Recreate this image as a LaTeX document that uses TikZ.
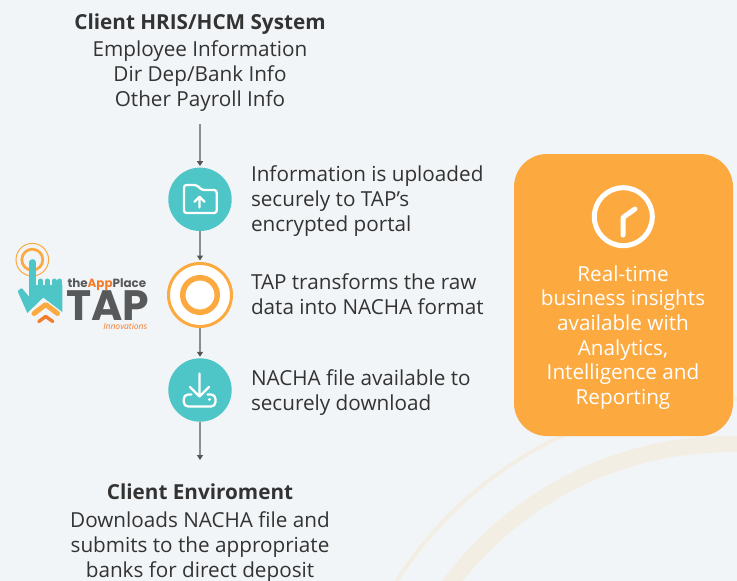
\documentclass[tikz,border=0pt]{standalone}
\usepackage{fontspec}
\setmainfont{Open Sans}
\newfontfamily\logofont{Poppins}
\definecolor{bgc}{HTML}{F2F5F7}
\definecolor{arcc}{HTML}{F2EEE4}
\definecolor{orng}{HTML}{FCA93F}
\definecolor{deep}{HTML}{F47B2A}
\definecolor{teal2}{HTML}{4EC5C7}
\definecolor{ink}{HTML}{333333}
\definecolor{logoink}{HTML}{58595B}
\definecolor{lineg}{HTML}{8E8E8E}
\definecolor{headg}{HTML}{555555}
\usetikzlibrary{arrows.meta}
\tikzset{
  txt/.style={inner sep=0pt,outer sep=0pt,text=ink,font=\fontsize{20.7}{25}\selectfont},
  leftblock/.style={txt,anchor=north west,align=left},
  midblock/.style={txt,anchor=north,align=center},
  flow/.style={draw=lineg,line width=1.3pt,-{Triangle[length=5pt,width=6pt,fill=headg,color=headg]},shorten >=1.5pt},
  tealdot/.style={circle,fill=teal2,minimum size=63.4pt,inner sep=0pt,outer sep=0pt},
  icon/.style={draw=white,line width=2.3pt,line cap=round,line join=round},
}
\newcommand{\topline}{\rule{0pt}{16pt}}
\begin{document}
\begin{tikzpicture}[x=1pt,y=-1pt]
\useasboundingbox (0,0) rectangle (737,581);
\fill[bgc] (0,0) rectangle (737,581);
\begin{scope}
\clip (0,0) rectangle (737,581);
\draw[arcc,line width=16.5pt] (730,794) circle (350pt);
\draw[arcc,line width=4pt] (730,794) circle (395.5pt);
\end{scope}

% orange panel
\node[fill=orng,rounded corners=33pt,minimum width=219pt,minimum height=282pt,inner sep=0pt,outer sep=0pt] (panel) at (623.5,295) {};
\node[circle,draw=white,line width=5pt,fill=none,minimum size=58pt,inner sep=0pt] (clock) at (623.3,216.7) {};
\draw[white,line width=5pt,line cap=round,line join=round] (623,235) -- (623,217.5) -- (635,209);
\node[txt,text=white,anchor=north,align=center,font=\fontsize{20.7}{24.7}\selectfont] (paneltext) at (623,265) {\topline Real-time\\business insights\\available with\\Analytics,\\Intelligence and\\Reporting};

% texts
\node[midblock] (hris) at (200,13) {\topline\textbf{Client HRIS/HCM System}\\[2pt]Employee Information\\Dir Dep/Bank Info\\Other Payroll Info};
\node[midblock] (env) at (200,483) {\topline\textbf{Client Enviroment}\\[3pt]Downloads NACHA file and\\submits to the appropriate\\banks for direct deposit};
\node[leftblock] (t1) at (251,165) {\topline Information is uploaded\\securely to TAP’s\\encrypted portal};
\node[leftblock] (t2) at (251,273) {\topline TAP transforms the raw\\data into NACHA format};
\node[leftblock] (t3) at (251,369) {\topline NACHA file available to\\securely download};

% step circles
\node[tealdot] (c1) at (200,199.3) {};
\node[circle,draw=orng,line width=3pt,fill=white,minimum size=63pt,inner sep=0pt,outer sep=1.5pt] (c2) at (200,295) {};
\node[circle,draw=orng,line width=5.5pt,fill=none,minimum size=34.5pt,inner sep=0pt] (c2in) at (200,295) {};
\node[tealdot] (c3) at (200,390) {};
\coordinate (endarrow) at (200,461.5);

% connectors
\draw[flow,shorten <=3pt] (hris.south) ++(0,10) -- (c1.north);
\draw[flow] (c1.south) -- (c2.north);
\draw[flow] (c2.south) -- (c3.north);
\draw[flow] (c3.south) -- (endarrow);

% folder icon
\draw[icon,rounded corners=2.5pt] (184,185) -- (196.5,185) -- (202,190) -- (216.7,190) -- (216.7,213) -- (184,213) -- cycle;
\draw[icon] (199.5,207.5) -- (199.5,197) (194.5,201.7) -- (199.5,196.7) -- (204.5,201.7);

% download icon
\draw[icon] (199.5,373.5) -- (199.5,396.5) (190,387) -- (199.5,396.5) -- (209,387);
\draw[icon,rounded corners=4.5pt] (191.5,394.5) -- (183.7,394.5) -- (183.7,406.5) -- (215.5,406.5) -- (215.5,394.5) -- (207.5,394.5);
\fill[white] (209.5,399.5) circle (1.7pt);

% logo: rings
\draw[orng,line width=1pt] (32.3,259.7) circle (16.3pt);
\draw[orng,line width=2.7pt] (32.3,259.7) circle (10.5pt);
% logo: hand
\draw[teal2,line width=6.7pt,line cap=round] (32.6,262.5) -- (32.6,295);
\draw[teal2,line width=5pt,line cap=round] (40.8,281) -- (40.8,295) (47.2,281) -- (47.2,295) (54.2,281) -- (54.2,295) (59.8,281) -- (59.8,295);
\fill[teal2] (29.3,285) -- (62.3,285) -- (62.3,312) -- (43.3,297.5) -- (27.3,313) -- (17.8,291.5) -- (22,288.3) -- (29.3,297) -- cycle;
\draw[teal2,line width=2pt,line join=round] (18.8,291.3) -- (21.6,289.2);
\draw[orng,line width=5pt,line cap=round,line join=round] (34,313.5) -- (45.7,304.5) -- (57.5,313.5);
\draw[deep,line width=3.4pt,line cap=round,line join=round] (38.8,321.5) -- (45.7,316.5) -- (52.8,321.5);
% logo: text
\node[inner sep=0pt,anchor=base west,font=\logofont\bfseries\fontsize{11.9}{14}\selectfont,text=logoink] (lg1) at (67.3,287.5) {the{\color{deep}App}Place};
\node[inner sep=0pt,anchor=base west,font=\logofont\bfseries\fontsize{42.5}{42}\selectfont,text=logoink] (lg2) at (66,320.7) {TAP};
\node[inner sep=0pt,anchor=base east,font=\itshape\fontsize{8.5}{10}\selectfont,text=deep] (lg3) at (147.5,329.5) {Innovations};
\end{tikzpicture}
\end{document}
